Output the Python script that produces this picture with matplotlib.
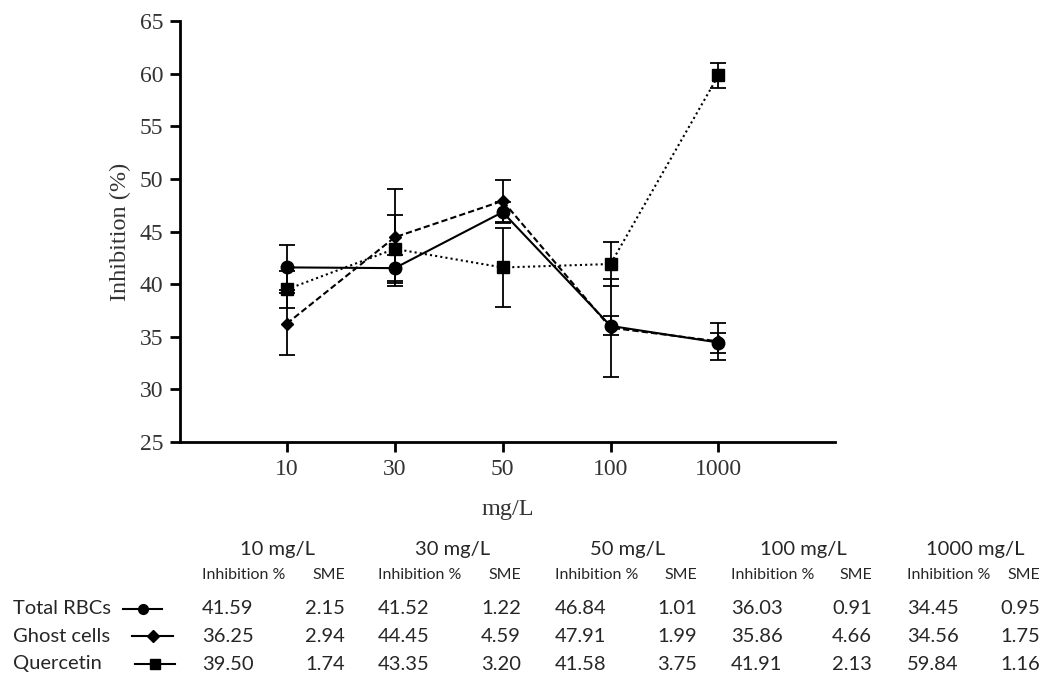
import matplotlib
matplotlib.use("Agg")
import matplotlib.pyplot as plt
from matplotlib.lines import Line2D

doses = ["10", "30", "50", "100", "1000"]
series_names = ["Total RBCs", "Ghost cells", "Quercetin"]
total_rbcs = [41.59, 41.52, 46.84, 36.03, 34.45]
total_rbcs_sme = [2.15, 1.22, 1.01, 0.91, 0.95]
ghost_cells = [36.25, 44.45, 47.91, 35.86, 34.56]
ghost_cells_sme = [2.94, 4.59, 1.99, 4.66, 1.75]
quercetin = [39.50, 43.35, 41.58, 41.91, 59.84]
quercetin_sme = [1.74, 3.20, 3.75, 2.13, 1.16]

W, H = 1045, 676
fig = plt.figure(figsize=(W / 100, H / 100), dpi=100)
ax = fig.add_axes([180 / W, 1 - 442 / H, (835 - 180) / W, (442 - 21) / H])

xs = list(range(len(doses)))
styles = [
    (total_rbcs, total_rbcs_sme, "-", "o", 9),
    (ghost_cells, ghost_cells_sme, (0, (3, 1.5)), "D", 6.5),
    (quercetin, quercetin_sme, (0, (1, 1.5)), "s", 9),
]
for vals, err, ls, mk, ms in styles:
    ax.errorbar(xs, vals, yerr=err, color="black", linestyle=ls, marker=mk,
                markersize=ms, linewidth=1.5, elinewidth=1.3, capsize=6,
                capthick=1.3)

serif = ["Liberation Serif", "DejaVu Serif"]
ax.set_xlim(-0.99, 5.08)
ax.set_ylim(25, 65)
ax.set_yticks(range(25, 66, 5))
ax.set_xticks(xs)
ax.set_xticklabels(doses)
for lab in ax.get_xticklabels() + ax.get_yticklabels():
    lab.set_family(serif)
    lab.set_fontsize(17)
    lab.set_color("#333333")
ax.set_ylabel("Inhibition (%)", family=serif, fontsize=17.5, color="#333333", labelpad=6)
ax.set_xlabel("mg/L", family=serif, fontsize=17.5, color="#333333", labelpad=14)
ax.spines["top"].set_visible(False)
ax.spines["right"].set_visible(False)
ax.spines["left"].set_linewidth(2)
ax.spines["bottom"].set_linewidth(2)
ax.tick_params(width=2, length=7, direction="out", pad=5)

# table below the chart
sans = ["Lato", "DejaVu Sans"]
val_left = [202, 378, 555, 731, 907]
sme_right = [345, 521, 697, 872, 1040]
head_center = [277, 453, 628, 803, 975]
row_y = [609, 636, 664]
all_vals = [total_rbcs, ghost_cells, quercetin]
all_sme = [total_rbcs_sme, ghost_cells_sme, quercetin_sme]
txt = "#262626"

def fx(px):
    return px / W

def fy(py):
    return 1 - py / H

for i, d in enumerate(doses):
    fig.text(fx(head_center[i]), fy(550), d + " mg/L", ha="center", va="center",
             family=sans, fontsize=14.5, color=txt)
    fig.text(fx(val_left[i]), fy(575), "Inhibition %", ha="left", va="center",
             family=sans, fontsize=11.5, color=txt)
    fig.text(fx(sme_right[i]), fy(575), "SME", ha="right", va="center",
             family=sans, fontsize=11.5, color=txt)
    for r in range(3):
        fig.text(fx(val_left[i]), fy(row_y[r]), "%.2f" % all_vals[r][i], ha="left",
                 va="center", family=sans, fontsize=14.5, color=txt)
        fig.text(fx(sme_right[i]), fy(row_y[r]), "%.2f" % all_sme[r][i], ha="right",
                 va="center", family=sans, fontsize=14.5, color=txt)

legend_x = [(123, 162), (132, 173), (135, 175)]
legend_mk = [("o", 7), ("D", 6), ("s", 7)]
for r, name in enumerate(series_names):
    fig.text(fx(13), fy(row_y[r]), name, ha="left", va="center",
             family=sans, fontsize=14.5, color=txt)
    x0, x1 = legend_x[r]
    fig.add_artist(Line2D([fx(x0), fx(x1)], [fy(row_y[r])] * 2, color="black",
                          linewidth=1.5, transform=fig.transFigure))
    fig.add_artist(Line2D([fx((x0 + x1) / 2)], [fy(row_y[r])], color="black",
                          marker=legend_mk[r][0], markersize=legend_mk[r][1],
                          transform=fig.transFigure))

fig.savefig("out.png", dpi=100)
